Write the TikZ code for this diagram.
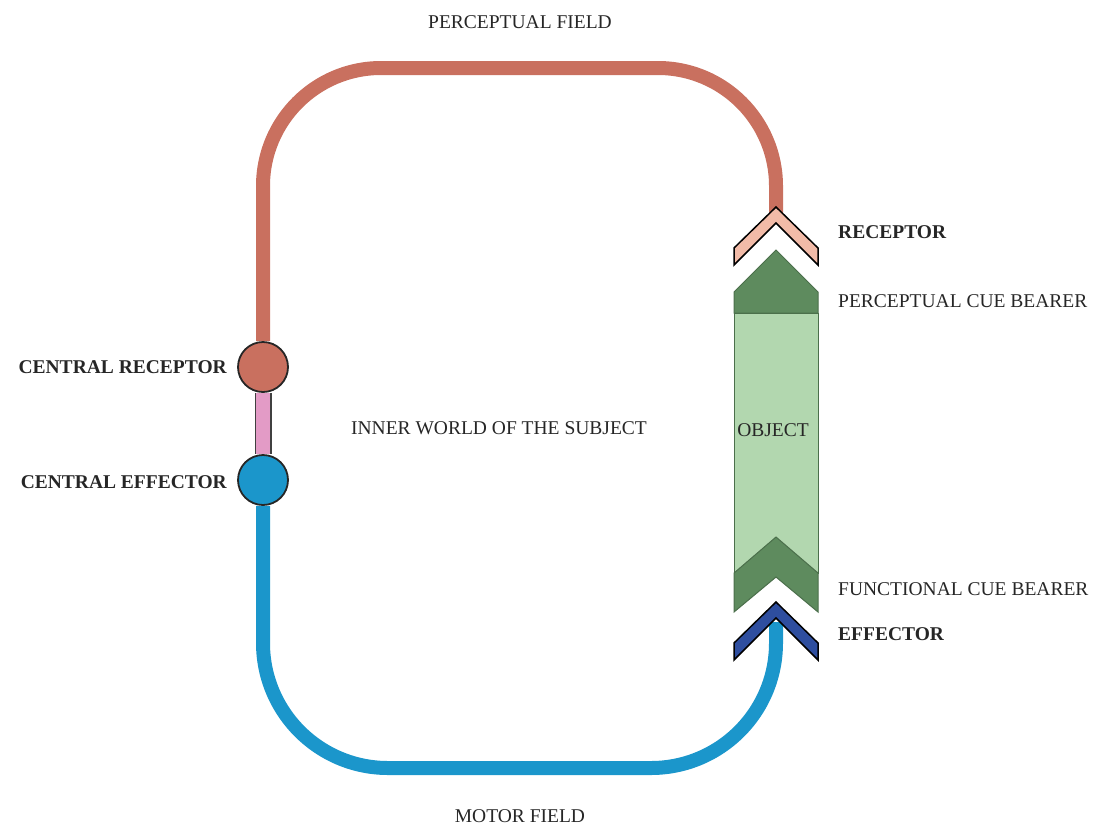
\documentclass[tikz,border=0pt]{standalone}
\usepackage{xcolor}
\usepackage{fontspec}
\setmainfont{Liberation Serif}
\usepackage{tikz}
\usetikzlibrary{backgrounds}

\definecolor{fieldred}{HTML}{C9705F}
\definecolor{fieldblue}{HTML}{1B96CB}
\definecolor{linkpink}{HTML}{E39BC6}
\definecolor{recpink}{HTML}{F2BBA8}
\definecolor{effblue}{HTML}{2E4E9F}
\definecolor{cuegreen}{HTML}{5E8B5E}
\definecolor{objgreen}{HTML}{B2D7AF}

\tikzset{
  field/.style={line width=14pt},
  hub/.style={circle, draw=black!85, line width=1.8pt, minimum size=50pt, inner sep=0pt},
  chev/.style={draw=black, line width=1.5pt, line join=miter},
  lbl/.style={font=\fontsize{19.5}{23}\selectfont, inner sep=0pt, text=black!85},
  blbl/.style={font=\bfseries\fontsize{19.5}{23}\selectfont, inner sep=0pt, text=black!85}
}

\begin{document}
\begin{tikzpicture}[x=1pt, y=-1pt]
             \useasboundingbox (0,0) rectangle (1097,828);

             % central hubs
             \node[hub, fill=fieldred] (crec) at (263,367) {};
             \node[hub, fill=fieldblue] (ceff) at (263,480) {};
             \coordinate (rec) at (776,215);
             \coordinate (eff) at (776,622);

             \begin{scope}[on background layer]
             \draw[field, fieldred, rounded corners=118pt] (crec.north) -- (263,68) -- (776,68) -- (rec);
             \draw[field, fieldblue, rounded corners=125pt] (ceff.south) -- (263,768) -- (776,768) -- (eff);
             \draw[line width=17pt, black!75] (crec.south) -- (ceff.north);
             \draw[line width=14pt, linkpink] (crec.south) -- (ceff.north);
             \end{scope}

             % object with its cue bearers
             \draw[draw=cuegreen!80!black, line width=1pt, fill=objgreen] (734,313) rectangle (818,573);
             \draw[draw=cuegreen!80!black, line width=1pt, fill=cuegreen] (734,313) -- (734,292) -- (776,250) -- (818,292) -- (818,313) -- cycle;
             \draw[draw=cuegreen!80!black, line width=1pt, fill=cuegreen] (734,573) -- (776,537) -- (818,573) -- (818,612) -- (776,577) -- (734,612) -- cycle;

             % receptor and effector
             \draw[chev, fill=recpink] (734,248) -- (776,207) -- (818,248) -- (818,265) -- (776,223) -- (734,265) -- cycle;
             \draw[chev, fill=effblue] (734,643) -- (776,602) -- (818,643) -- (818,660) -- (776,618) -- (734,660) -- cycle;

             \node[lbl] (pfield) at (520,22) {PERCEPTUAL FIELD};
             \node[lbl] (mfield) at (520,816) {MOTOR FIELD};
             \node[lbl] (inner) at (499,428) {INNER WORLD OF THE SUBJECT};
             \node[lbl] (object) at (773,430) {OBJECT};
             \node[blbl, anchor=east] (creclbl) at (227,367) {CENTRAL RECEPTOR};
             \node[blbl, anchor=east] (cefflbl) at (227,482) {CENTRAL EFFECTOR};
             \node[blbl, anchor=west] (reclbl) at (838,232) {RECEPTOR};
             \node[lbl, anchor=west] (pcblbl) at (838,301) {PERCEPTUAL CUE BEARER};
             \node[lbl, anchor=west] (fcblbl) at (838,589) {FUNCTIONAL CUE BEARER};
             \node[blbl, anchor=west] (efflbl) at (838,634) {EFFECTOR};
\end{tikzpicture}
\end{document}
